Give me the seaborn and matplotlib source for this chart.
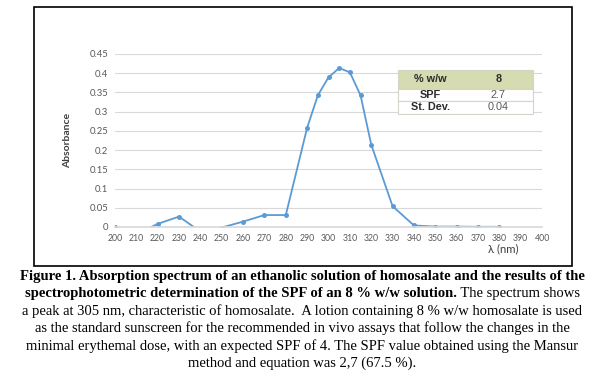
import numpy as np
import pandas as pd
import matplotlib
matplotlib.use("Agg")
import matplotlib.pyplot as plt
import seaborn as sns
from matplotlib.patches import Rectangle

# ================= data =================
wavelength = [200, 210, 220, 230, 240, 250, 260, 270, 280, 290, 295, 300,
              305, 310, 315, 320, 330, 340, 350, 360, 370, 380]
absorbance = [0.001, -0.019, 0.008, 0.027, -0.012, -0.0015, 0.014, 0.031,
              0.031, 0.258, 0.342, 0.389, 0.413, 0.402, 0.342, 0.214,
              0.054, 0.004, 0.001, 0.001, 0.0005, 0.0005]
x_ticks = list(range(200, 401, 10))
y_ticks = [0, 0.05, 0.1, 0.15, 0.2, 0.25, 0.3, 0.35, 0.4, 0.45]
y_ticklabels = ["0", "0.05", "0.1", "0.15", "0.2", "0.25", "0.3", "0.35", "0.4", "0.45"]

table_labels = ["% w/w", "SPF", "St. Dev."]
table_values = ["8", "2.7", "0.04"]

caption_bold_1 = "Figure 1. Absorption spectrum of an ethanolic solution of homosalate and the results of the"
caption_bold_2 = "spectrophotometric determination of the SPF of an 8 % w/w solution."
caption_norm_2 = " The spectrum shows"
caption_rest = [
    "a peak at 305 nm, characteristic of homosalate.  A lotion containing 8 % w/w homosalate is used",
    "as the standard sunscreen for the recommended in vivo assays that follow the changes in the",
    "minimal erythemal dose, with an expected SPF of 4. The SPF value obtained using the Mansur",
    "method and equation was 2,7 (67.5 %).",
]

df = pd.DataFrame({"wl": wavelength, "abs": absorbance})

# ================= style =================
sns.set_theme(style="white")
plt.rcParams["font.family"] = ["Lato", "DejaVu Sans"]

BLUE = "#5b9bd5"
GRAY = "#595959"

fig = plt.figure(figsize=(6.05, 3.9), dpi=100)
ax = fig.add_axes([0.190, 0.418, 0.706, 0.444])

sns.lineplot(data=df, x="wl", y="abs", ax=ax, color=BLUE, lw=1.3,
             marker="o", markersize=3.6, markeredgewidth=0)

ax.set_xlim(200, 400)
ax.set_ylim(0, 0.45)
ax.set_xticks(x_ticks)
ax.set_xticklabels([str(t) for t in x_ticks], fontsize=6.3, color=GRAY)
ax.set_yticks(y_ticks)
ax.set_yticklabels(y_ticklabels, fontsize=6.8, color=GRAY)
ax.tick_params(axis="both", length=0, pad=5)
ax.yaxis.grid(True, color="#d9d9d9", lw=0.8)
ax.xaxis.grid(False)
for s in ["top", "right", "left"]:
    ax.spines[s].set_visible(False)
ax.spines["bottom"].set_color("#d9d9d9")
ax.set_xlabel("")
ax.set_ylabel("")

fig.text(0.112, 0.64, "Absorbance", rotation=90, ha="center", va="center",
         fontsize=7.5, fontweight="bold", color="#404040")
fig.text(0.832, 0.362, "λ (nm)", ha="center", va="center", fontsize=8.2, color="#404040")

# small results table (axes coordinates)
tx0, tx1 = 0.662, 0.978
row_edges = [0.908, 0.798, 0.728, 0.653]
sans = ["Liberation Sans", "DejaVu Sans"]
for i, (lab, val) in enumerate(zip(table_labels, table_values)):
    top, bot = row_edges[i], row_edges[i + 1]
    face = "#d6dbb2" if i == 0 else "white"
    ax.add_patch(Rectangle((tx0, bot), tx1 - tx0, top - bot, transform=ax.transAxes,
                           facecolor=face, edgecolor="#d2d6c4", lw=0.8, zorder=5))
    yc = (top + bot) / 2
    ax.text(tx0 + (tx1 - tx0) * 0.24, yc, lab, transform=ax.transAxes, ha="center",
            va="center", fontsize=7.8, fontweight="bold", color="#2b2b2b",
            family=sans, zorder=6)
    ax.text(tx0 + (tx1 - tx0) * 0.745, yc, val, transform=ax.transAxes, ha="center",
            va="center", fontsize=7.8, fontweight="bold" if i == 0 else "normal",
            color="#2b2b2b" if i == 0 else GRAY, family=sans, zorder=6)

# outer frame
fig.patches.append(Rectangle((0.056, 0.318), 0.889, 0.664, transform=fig.transFigure,
                             fill=False, edgecolor="black", lw=1.2))

# ================= caption =================
serif = ["Liberation Serif", "DejaVu Serif"]
cap_size = 10.5
line_y = [0.290, 0.247, 0.202, 0.158, 0.112, 0.068]
fig.text(0.5, line_y[0], caption_bold_1, ha="center", va="center", family=serif,
         fontsize=cap_size, fontweight="bold", color="black")

renderer = fig.canvas.get_renderer()
t_b = fig.text(0, line_y[1], caption_bold_2, ha="left", va="center", family=serif,
               fontsize=cap_size, fontweight="bold", color="black")
t_n = fig.text(0, line_y[1], caption_norm_2, ha="left", va="center", family=serif,
               fontsize=cap_size, color="black")
wb = t_b.get_window_extent(renderer).width / fig.bbox.width
wn = t_n.get_window_extent(renderer).width / fig.bbox.width
x0 = 0.5 - (wb + wn) / 2
t_b.set_x(x0)
t_n.set_x(x0 + wb)

for y, line in zip(line_y[2:], caption_rest):
    fig.text(0.5, y, line, ha="center", va="center", family=serif,
             fontsize=cap_size, color="black")

fig.savefig("out.png", dpi=100)
